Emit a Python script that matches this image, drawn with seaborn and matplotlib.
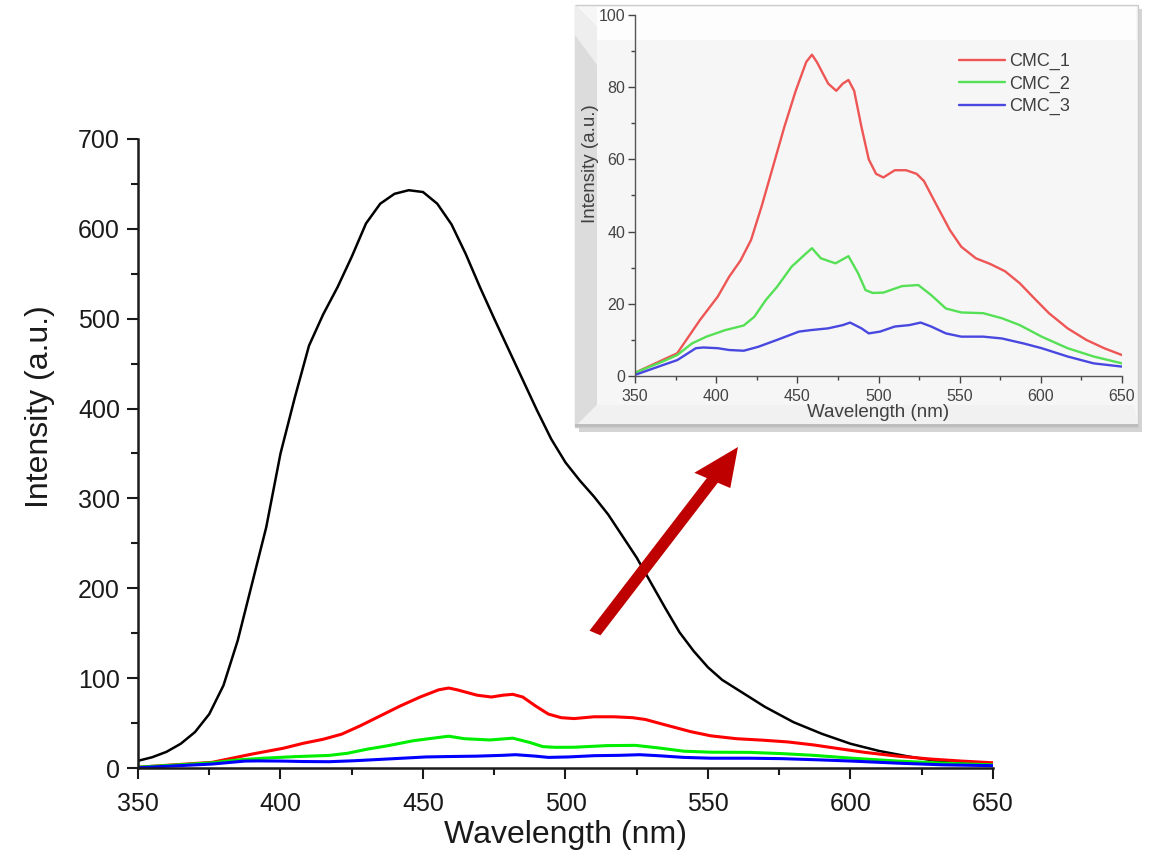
import numpy as np
import pandas as pd
import matplotlib
matplotlib.use("Agg")
import matplotlib.pyplot as plt
import seaborn as sns
from matplotlib.patches import Polygon, Rectangle, FancyArrow
from matplotlib.ticker import MultipleLocator

# ---------------- data ----------------
black_wl = [350, 355, 360, 365, 370, 375, 380, 385, 390, 395, 400, 405, 410, 415, 420,
            425, 430, 435, 440, 445, 450, 455, 460, 465, 470, 475, 480, 485, 490, 495,
            500, 505, 510, 515, 520, 525, 530, 535, 540, 545, 550, 555, 560, 570, 580,
            590, 600, 610, 620, 630, 640, 650]
black_int = [8, 12, 18, 27, 40, 60, 92, 142, 205, 268, 350, 412, 470, 505, 535,
             569, 606, 628, 639, 643, 641, 628, 605, 572, 535, 500, 466, 432, 398, 366,
             340, 320, 302, 282, 258, 234, 206, 178, 151, 130, 112, 98, 88, 68, 51,
             38, 27, 19, 13, 8, 5, 3]

red_wl = [350, 362.5, 376, 383, 390, 401, 408, 415, 421.5, 428, 435, 442, 449, 455.5, 459,
          462, 469, 474, 478, 481.5, 485, 489.5, 494, 498.5, 503, 510, 517, 523.5, 528,
          535, 544, 551, 560, 569, 578, 587, 596, 605, 616.5, 628, 639, 650]
red_int = [0.9, 3.5, 6.3, 10.9, 15.5, 22, 27.5, 32, 37.7, 47, 58, 69, 79, 87, 89,
           87, 81, 79, 81, 82, 79, 69, 60, 56, 55, 57, 57, 56, 54,
           48, 40.4, 35.8, 32.6, 31, 29, 25.7, 21.5, 17.4, 13.2, 10, 7.7, 5.8]

green_wl = [350, 367, 376, 385, 394, 405.5, 417, 423.5, 430.5, 437.5, 446.5, 455.5, 459,
            464.5, 473.5, 481.5, 487.5, 492, 496.5, 503, 514.5, 524.5, 532.5, 541.5, 551,
            564.5, 576, 587, 600.5, 616.5, 632.5, 650]
green_int = [0.9, 4, 5.8, 9, 10.9, 12.7, 14, 16.4, 21, 24.7, 30.3, 34, 35.4,
             32.6, 31.2, 33.2, 28.4, 23.8, 23, 23.1, 24.9, 25.2, 22.4, 18.7, 17.6,
             17.4, 16, 14.1, 10.9, 7.7, 5.4, 3.5]

blue_wl = [350, 367, 376, 387.5, 392, 401, 408, 417, 426, 437.5, 451, 458, 469, 478,
           482.5, 489.5, 494, 501, 510, 519, 526, 532.5, 541.5, 551, 564.5, 576, 589.5,
           600.5, 616.5, 632.5, 650]
blue_int = [0.3, 3, 4.4, 7.7, 7.9, 7.7, 7.2, 7, 8.1, 10, 12.3, 12.7, 13.2, 14.1,
            14.8, 13.2, 11.8, 12.3, 13.7, 14.1, 14.8, 13.7, 11.8, 10.9, 10.9, 10.4, 9,
            7.7, 5.4, 3.5, 2.6]

legend_labels = ["CMC_1", "CMC_2", "CMC_3"]
main_colors = ["#000000", "#ff0000", "#00ee00", "#0000ff"]
inset_colors = ["#ee5555", "#55e055", "#4848e0"]

x_ticks = [350, 400, 450, 500, 550, 600, 650]
main_y_ticks = [0, 100, 200, 300, 400, 500, 600, 700]
inset_y_ticks = [0, 20, 40, 60, 80, 100]

# ---------------- style ----------------
sns.set_theme(style="ticks")
plt.rcParams['font.family'] = ['Liberation Sans', 'DejaVu Sans']

W, H = 1150, 855
fig = plt.figure(figsize=(W / 100, H / 100), dpi=100)
fig.patch.set_facecolor("white")


def fx(px):
    return px / W


def fy(py):
    return 1 - py / H


# ---------------- main axes ----------------
ax = fig.add_axes([fx(138), fy(768), fx(993) - fx(138), fy(139) - fy(768)])
series = [(black_wl, black_int), (red_wl, red_int), (green_wl, green_int), (blue_wl, blue_int)]
widths = [1.8, 2.2, 2.2, 2.2]
for (wl, it), c, lw in zip(series, main_colors, widths):
    df = pd.DataFrame({"wl": wl, "it": it})
    sns.lineplot(data=df, x="wl", y="it", ax=ax, color=c, lw=lw, legend=False)

ax.set_xlim(350, 650)
ax.set_ylim(0, 700)
ax.set_xticks(x_ticks)
ax.set_yticks(main_y_ticks)
ax.xaxis.set_minor_locator(MultipleLocator(25))
ax.yaxis.set_minor_locator(MultipleLocator(50))
ax.tick_params(which="major", direction="out", length=8, width=1.5, labelsize=18,
               colors="#1a1a1a")
ax.tick_params(axis="x", which="major", pad=9)
ax.tick_params(axis="y", which="major", pad=5)
ax.tick_params(which="minor", direction="out", length=5, width=1.5, colors="#1a1a1a")
for s in ["top", "right"]:
    ax.spines[s].set_visible(False)
for s in ["left", "bottom"]:
    ax.spines[s].set_linewidth(1.8)
    ax.spines[s].set_color("#1a1a1a")
ax.set_xlabel("Wavelength (nm)", fontsize=23, color="#1a1a1a", labelpad=3)
ax.set_ylabel("Intensity (a.u.)", fontsize=23, color="#1a1a1a")
ax.yaxis.set_label_coords(-0.097, 0.575)
ax.set_facecolor("none")

# ---------------- inset frame (bevel) ----------------
L, T, R, B = 575, 5, 1138, 427
bw = 22
shadow = Rectangle((fx(L + 4), fy(B + 5)), fx(R + 4) - fx(L + 4), fy(T + 4) - fy(B + 5),
                   transform=fig.transFigure, facecolor="#b8b8b8", edgecolor="none",
                   alpha=0.6, zorder=1)
fig.patches.append(shadow)
outer = Rectangle((fx(L), fy(B)), fx(R) - fx(L), fy(T) - fy(B),
                  transform=fig.transFigure, facecolor="#f6f6f6", edgecolor="#cccccc",
                  lw=1.0, zorder=2)
fig.patches.append(outer)
top_band = Rectangle((fx(L + bw), fy(40)), fx(R - 2) - fx(L + bw), fy(T + 2) - fy(40),
                     transform=fig.transFigure, facecolor="#fdfdfd", edgecolor="none", zorder=2)
fig.patches.append(top_band)
left_bevel = Polygon([(fx(L), fy(T)), (fx(L + bw), fy(T + bw)), (fx(L + bw), fy(B - bw)),
                      (fx(L), fy(B))], closed=True, transform=fig.transFigure,
                     facecolor="#dcdcdc", edgecolor="none", zorder=3)
fig.patches.append(left_bevel)
left_hi = Polygon([(fx(L), fy(T)), (fx(L + bw), fy(T + bw)), (fx(L + bw), fy(T + 60)),
                   (fx(L), fy(T + 30))], closed=True, transform=fig.transFigure,
                  facecolor="#eeeeee", edgecolor="none", zorder=3)
fig.patches.append(left_hi)
bottom_bevel = Polygon([(fx(L), fy(B)), (fx(L + bw), fy(B - bw)), (fx(R - 4), fy(B - bw)),
                        (fx(R), fy(B))], closed=True, transform=fig.transFigure,
                       facecolor="#f1f1f1", edgecolor="none", zorder=3)
fig.patches.append(bottom_bevel)
bottom_line = Rectangle((fx(L), fy(B)), fx(R) - fx(L), fy(B - 3) - fy(B),
                        transform=fig.transFigure, facecolor="#bdbdbd", edgecolor="none", zorder=3)
fig.patches.append(bottom_line)

# ---------------- inset axes ----------------
ins = fig.add_axes([fx(635), fy(376), fx(1122) - fx(635), fy(15) - fy(376)], zorder=5)
ins.set_facecolor("none")
for (wl, it), c, lab in zip(series[1:], inset_colors, legend_labels):
    df = pd.DataFrame({"wl": wl, "it": it})
    sns.lineplot(data=df, x="wl", y="it", ax=ins, color=c, lw=1.7, label=lab)
ins.set_xlim(350, 650)
ins.set_ylim(0, 100)
ins.set_xticks(x_ticks)
ins.set_yticks(inset_y_ticks)
ins.xaxis.set_minor_locator(MultipleLocator(25))
ins.yaxis.set_minor_locator(MultipleLocator(10))
ins.tick_params(which="major", direction="out", length=5, width=1, labelsize=11.5,
                colors="#444444")
ins.tick_params(axis="x", which="major", pad=4)
ins.tick_params(axis="y", which="major", pad=2)
ins.tick_params(which="minor", direction="out", length=3, width=1, colors="#444444")
for s in ["top", "right"]:
    ins.spines[s].set_visible(False)
for s in ["left", "bottom"]:
    ins.spines[s].set_color("#555555")
    ins.spines[s].set_linewidth(1.0)
ins.set_xlabel("Wavelength (nm)", fontsize=13.5, color="#404040", labelpad=0)
ins.set_ylabel("Intensity (a.u.)", fontsize=13.5, color="#404040")
ins.yaxis.set_label_coords(-0.074, 0.587)
leg = ins.legend(loc="upper left", bbox_to_anchor=(fx(959), fy(53)),
                 bbox_transform=fig.transFigure, frameon=False, borderpad=0,
                 borderaxespad=0, fontsize=13, handlelength=2.55, handletextpad=0.2,
                 labelspacing=0.3)
for t in leg.get_texts():
    t.set_color("#404040")

# ---------------- arrow ----------------
x0, y0, x1, y1 = 595, 633, 738, 447
arr = FancyArrow(fx(x0), fy(y0), fx(x1) - fx(x0), fy(y1) - fy(y0),
                 width=0.011, head_width=0.036, head_length=0.045,
                 length_includes_head=True, transform=fig.transFigure,
                 facecolor="#bf0000", edgecolor="none", zorder=6)
fig.patches.append(arr)

fig.savefig("out.png", dpi=100)
